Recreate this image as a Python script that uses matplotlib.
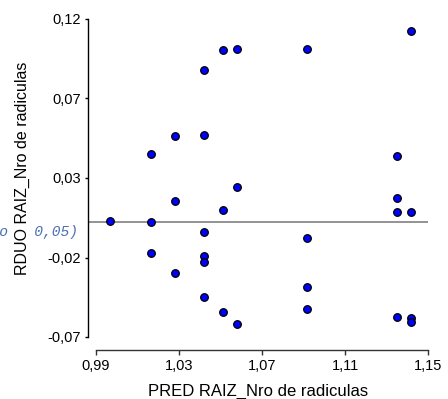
import numpy as np
import matplotlib
matplotlib.use("Agg")
import matplotlib.pyplot as plt
from matplotlib.ticker import FuncFormatter

# Data (predicted vs residual)
pred = [0.9968,
        1.0164, 1.0164, 1.0164,
        1.0281, 1.0281, 1.0281,
        1.0422, 1.0422, 1.0422, 1.0422, 1.0422, 1.0422,
        1.0511, 1.0511, 1.0511,
        1.0580, 1.0580, 1.0580,
        1.0918, 1.0918, 1.0918, 1.0918,
        1.1352, 1.1352, 1.1352, 1.1352,
        1.1420, 1.1420, 1.1420, 1.1420]
resid = [0.0006,
         0.0405, -0.0002, -0.0185,
         0.0512, 0.0126, -0.0303,
         0.0908, 0.0520, -0.0060, -0.0203, -0.0237, -0.0446,
         0.1026, 0.0074, -0.0539,
         0.1034, 0.0209, -0.0608,
         0.1034, -0.0094, -0.0388, -0.0521,
         0.0395, 0.0142, 0.0058, -0.0566,
         0.1143, 0.0058, -0.0572, -0.0599]
xticks = [0.99, 1.03, 1.07, 1.11, 1.15]
ylim = (-0.0687, 0.1213)
xlabel = "PRED RAIZ_Nro de radiculas"
ylabel = "RDUO RAIZ_Nro de radiculas"
note = "(alfa del modelo   0,05)"

plt.rcParams['font.family'] = ['Liberation Sans', 'DejaVu Sans']

fig = plt.figure(figsize=(4.48, 3.99), dpi=100)
W, H = 448, 399
left, right, top, bottom = 88, 428, 19, 337
ax = fig.add_axes([left / W, 1 - bottom / H, (right - left) / W, (bottom - top) / H])

x0 = xticks[0] - (xticks[-1] - xticks[0]) * 8 / 332
ax.set_xlim(x0, xticks[-1])
ax.set_ylim(*ylim)

ax.axhline(0, color='#808080', lw=1.2, zorder=1)
ax.scatter(pred, resid, s=30, c='#0000ff', edgecolors='black', linewidths=0.9, zorder=3)

fmt = FuncFormatter(lambda v, p: f"{v:.2f}".replace('.', ','))
ax.set_xticks(xticks)
ax.set_yticks(np.linspace(ylim[0], ylim[1], 5))
ax.xaxis.set_major_formatter(fmt)
ax.yaxis.set_major_formatter(fmt)

for s in ['top', 'right']:
    ax.spines[s].set_visible(False)
ax.spines['bottom'].set_position(('outward', 9.4))
ax.spines['bottom'].set_bounds(xticks[0], xticks[-1])
ax.spines['bottom'].set_color('#333333')
ax.spines['left'].set_color('black')
ax.spines['left'].set_linewidth(1.0)
ax.spines['bottom'].set_linewidth(1.0)

ax.tick_params(axis='x', direction='out', length=3.6, width=1, pad=2.5, labelsize=10.5, colors='#333333', labelcolor='black')
ax.tick_params(axis='y', direction='out', length=2.5, width=1, pad=2.5, labelsize=10.5)

ax.set_xlabel(xlabel, fontsize=12, labelpad=8.5)
ax.set_ylabel(ylabel, fontsize=11.5)
ax.yaxis.set_label_coords(-0.172, 0.53)

fig.text(78 / W, 1 - 232 / H, note, ha='right', va='center', fontsize=10.5,
         family='Liberation Mono', style='italic', color='#4a6fb5')

fig.savefig("out.png", dpi=100)
